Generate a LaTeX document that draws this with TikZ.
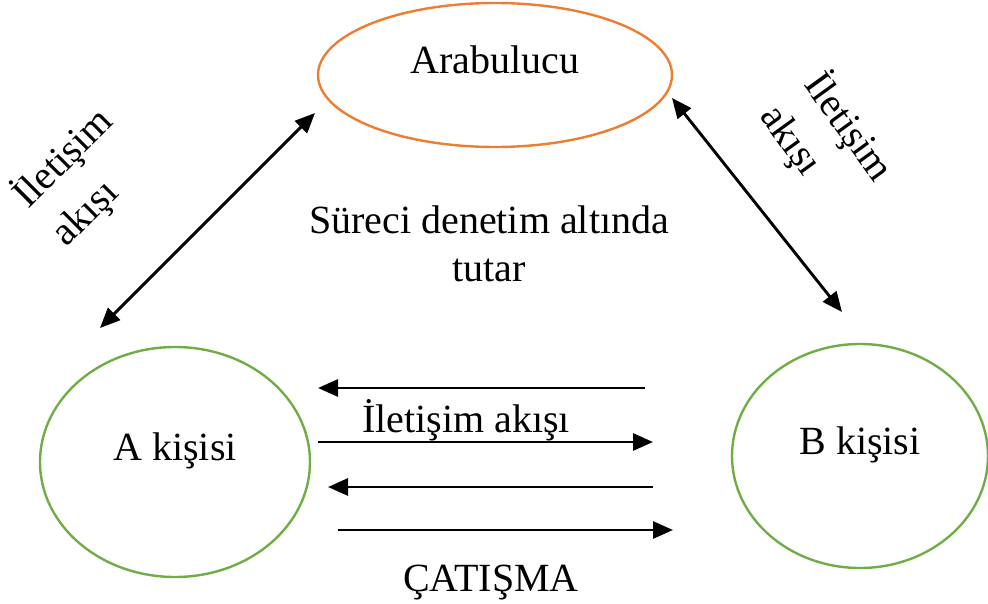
\documentclass[tikz,border=0pt]{standalone}
\usepackage{fontspec}
\setmainfont{Liberation Serif}
\usetikzlibrary{shapes.geometric,arrows.meta}
\definecolor{mediatororange}{HTML}{ED7D31}
\definecolor{partygreen}{HTML}{70AD47}

\begin{document}
\begin{tikzpicture}[x=1pt, y=-1pt, font=\fontsize{40}{48}\selectfont,
        >={Triangle[length=20pt,width=17pt]},
        party/.style={shape=ellipse, draw=partygreen, line width=2.4pt, inner sep=0pt, outer sep=0pt,
            text height=27pt, text depth=30pt},
        flow/.style={line width=2.9pt}]
            \useasboundingbox (0,0) rectangle (988,604);
            \begin{scope}
                \node[shape=ellipse, draw=mediatororange, line width=2.4pt, inner sep=0pt, outer sep=0pt,
                    text height=27pt, text depth=30pt, minimum width=354pt, minimum height=144pt] (Arabulucu) at (495,75) {Arabulucu};
                \node[party, minimum width=270pt, minimum height=230pt] (A) at (175,462) {A kişisi};
                \node[party, minimum width=256pt, minimum height=224pt] (B) at (860,456) {B kişisi};
            \end{scope}
            \node[align=center] (control) at (489,244) {Süreci denetim altında\\tutar};
            \node[align=left, rotate=45] (leftflow) at (82,177) {İletişim\\[6pt]akışı};
            \node[align=left, rotate=-54] (rightflow) at (827,143) {İletişim\\[6pt]akışı};
            \draw[flow, <->] ([shift={(-75,-19)}]A.north) -- ([shift={(-3,38)}]Arabulucu.west);
            \draw[flow, <->] ([shift={(0,23)}]Arabulucu.east) -- ([shift={(-18,-32)}]B.north);
            \draw[flow, ->] ([shift={(-87,-68)}]B.west) -- ([shift={(8,-74)}]A.east);
            \draw[flow, ->] ([shift={(8,-20)}]A.east) -- ([shift={(-79,-14)}]B.west);
            \draw[flow, ->] ([shift={(-79,31)}]B.west) -- ([shift={(18,25)}]A.east);
            \draw[flow, ->] ([shift={(28,68)}]A.east) -- ([shift={(-59,74)}]B.west);
            \node (flowlabel) at (466,420) {İletişim akışı};
            \node (conflict) at (491,583) {ÇATIŞMA};
        \end{tikzpicture}
\end{document}
